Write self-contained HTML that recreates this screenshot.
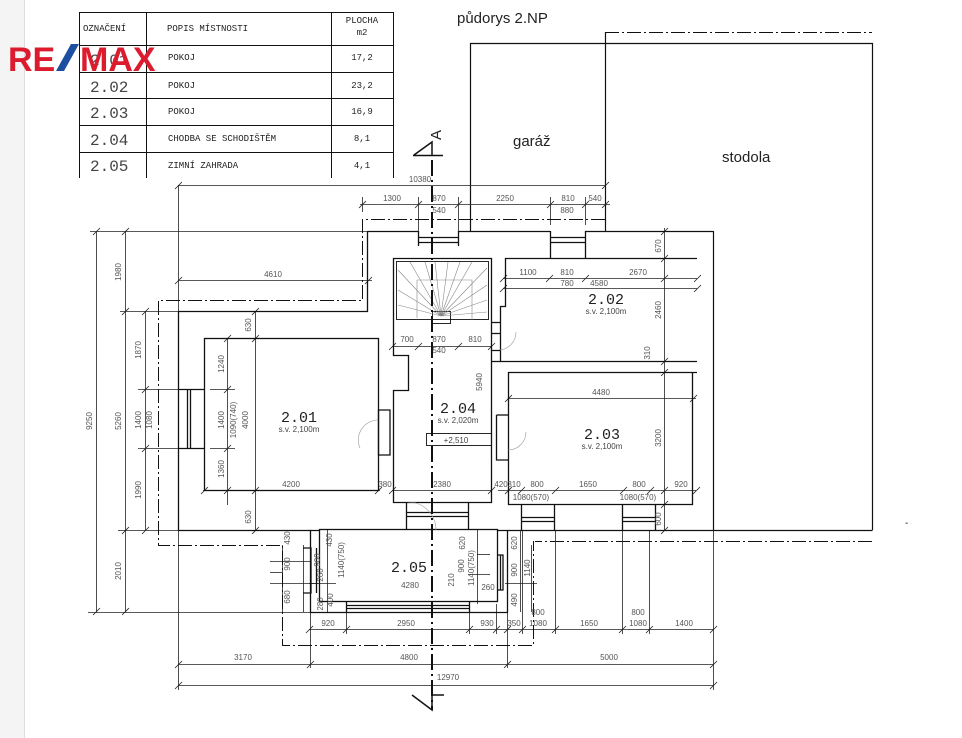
<!DOCTYPE html>
<html><head><meta charset="utf-8"><style>
html,body{margin:0;padding:0;background:#fff;}
body{width:962px;height:738px;overflow:hidden;position:relative;}
svg{position:absolute;left:0;top:0;}
.d{font-family:"Liberation Sans",sans-serif;font-size:8px;fill:#555;}
.r{font-family:"Liberation Mono",monospace;font-size:15px;fill:#222;}
.s{font-family:"Liberation Sans",sans-serif;font-size:8px;fill:#444;}
.t{font-family:"Liberation Mono",monospace;font-size:9px;fill:#222;}
.tn{font-family:"Liberation Mono",monospace;font-size:16px;fill:#444;}
</style></head><body>
<svg width="962" height="738" viewBox="0 0 962 738" xmlns="http://www.w3.org/2000/svg">
<rect x="0" y="0" width="24" height="738" fill="#f4f4f4"/>
<line x1="24.5" y1="0" x2="24.5" y2="738" stroke="#ddd"/>

<!-- table -->
<g stroke="#111" stroke-width="1" fill="none">
<path d="M79.5 178V12.5H393.5V178"/>
<line x1="146.5" y1="12" x2="146.5" y2="178"/>
<line x1="331.5" y1="12" x2="331.5" y2="178"/>
<line x1="79" y1="45.5" x2="393" y2="45.5"/>
<line x1="79" y1="72.5" x2="393" y2="72.5"/>
<line x1="79" y1="98.5" x2="393" y2="98.5"/>
<line x1="79" y1="125.5" x2="393" y2="125.5"/>
<line x1="79" y1="152.5" x2="393" y2="152.5"/>
</g>
<text class="t" x="83" y="31">OZNAČENÍ</text>
<text class="t" x="167" y="31">POPIS MÍSTNOSTI</text>
<text class="t" x="362" y="23" text-anchor="middle">PLOCHA</text>
<text class="t" x="362" y="35" text-anchor="middle">m2</text>
<text class="tn" x="90" y="65">2.01</text>
<text class="tn" x="90" y="92">2.02</text>
<text class="tn" x="90" y="118">2.03</text>
<text class="tn" x="90" y="145">2.04</text>
<text class="tn" x="90" y="171">2.05</text>
<text class="t" x="168" y="60">POKOJ</text>
<text class="t" x="168" y="88">POKOJ</text>
<text class="t" x="168" y="114">POKOJ</text>
<text class="t" x="168" y="141">CHODBA SE SCHODIŠTĚM</text>
<text class="t" x="168" y="168">ZIMNÍ ZAHRADA</text>
<text class="t" x="362" y="60" text-anchor="middle">17,2</text>
<text class="t" x="362" y="88" text-anchor="middle">23,2</text>
<text class="t" x="362" y="114" text-anchor="middle">16,9</text>
<text class="t" x="362" y="141" text-anchor="middle">8,1</text>
<text class="t" x="362" y="168" text-anchor="middle">4,1</text>

<!-- RE/MAX logo -->
<text x="8" y="71" font-family="Liberation Sans,sans-serif" font-weight="bold" font-size="34" fill="#dc1c2e">RE</text>
<polygon points="56,71 64,71 79,44 71,44" fill="#1c4fa0"/>
<text x="80" y="71" font-family="Liberation Sans,sans-serif" font-weight="bold" font-size="34" fill="#dc1c2e">MAX</text>

<text x="457" y="23" font-family="Liberation Sans,sans-serif" font-size="15" fill="#222">půdorys 2.NP</text>

<!-- garage / barn -->
<g stroke="#111" fill="none" stroke-width="1.2">
<path d="M470.5 231V43.5H872.5V530"/>
<line x1="605.5" y1="32" x2="605.5" y2="231"/>
<path d="M713.5 231V530.5H872.5"/>
</g>
<path d="M605 32.5H872M872 541.5H535" stroke="#111" stroke-dasharray="14,3,2,3" fill="none"/>
<text x="513" y="146" font-family="Liberation Sans,sans-serif" font-size="15" fill="#222">garáž</text>
<text x="722" y="162" font-family="Liberation Sans,sans-serif" font-size="15" fill="#222">stodola</text>
<text x="905" y="526" font-size="10" fill="#222" font-family="Liberation Sans">-</text>

<!-- dimension lines (thin) -->
<g stroke="#222" stroke-width="0.8" fill="none">
<line x1="178" y1="185.5" x2="605" y2="185.5"/>
<line x1="360" y1="204.5" x2="610" y2="204.5"/>
<line x1="90" y1="231.5" x2="367" y2="231.5"/>
<line x1="178" y1="280.5" x2="372" y2="280.5"/>
<line x1="96.5" y1="231" x2="96.5" y2="612"/>
<line x1="125.5" y1="231" x2="125.5" y2="612"/>
<line x1="145.5" y1="311" x2="145.5" y2="530"/>
<line x1="120" y1="311.5" x2="178" y2="311.5"/>
<line x1="138" y1="389.5" x2="178" y2="389.5"/>
<line x1="138" y1="448.5" x2="178" y2="448.5"/>
<line x1="118" y1="530.5" x2="178" y2="530.5"/>
<line x1="88" y1="612.5" x2="310" y2="612.5"/>
<line x1="227.5" y1="338" x2="227.5" y2="505"/>
<line x1="210" y1="389.5" x2="235" y2="389.5"/>
<line x1="210" y1="448.5" x2="235" y2="448.5"/>
<line x1="255.5" y1="311" x2="255.5" y2="530"/>
<line x1="203" y1="490.5" x2="380" y2="490.5"/>
<line x1="392" y1="490.5" x2="492" y2="490.5"/>
<line x1="392" y1="346.5" x2="492" y2="346.5"/>
<line x1="498" y1="490.5" x2="696" y2="490.5"/>
<line x1="503" y1="278.5" x2="697" y2="278.5"/>
<line x1="503" y1="288.5" x2="697" y2="288.5"/>
<line x1="508" y1="398.5" x2="696" y2="398.5"/>
<line x1="664.5" y1="228" x2="664.5" y2="530"/>
<line x1="418.5" y1="197" x2="418.5" y2="240"/>
<line x1="458.5" y1="197" x2="458.5" y2="240"/>
<line x1="550.5" y1="197" x2="550.5" y2="225"/>
<line x1="585.5" y1="197" x2="585.5" y2="225"/>
<line x1="362.5" y1="197" x2="362.5" y2="212"/>
<line x1="178.5" y1="185" x2="178.5" y2="311"/>
<!-- bottom -->
<line x1="309" y1="629.5" x2="714" y2="629.5"/>
<line x1="178" y1="664.5" x2="714" y2="664.5"/>
<line x1="178" y1="685.5" x2="714" y2="685.5"/>
<line x1="178.5" y1="530" x2="178.5" y2="690"/>
<line x1="713.5" y1="530" x2="713.5" y2="690"/>
<line x1="310.5" y1="612" x2="310.5" y2="668"/>
<line x1="507.5" y1="612" x2="507.5" y2="668"/>
<line x1="346.5" y1="604" x2="346.5" y2="634"/>
<line x1="469.5" y1="604" x2="469.5" y2="634"/>
<line x1="496.5" y1="604" x2="496.5" y2="634"/>
<line x1="522.5" y1="530" x2="522.5" y2="634"/>
<line x1="555.5" y1="530" x2="555.5" y2="634"/>
<line x1="622.5" y1="530" x2="622.5" y2="634"/>
<line x1="649.5" y1="530" x2="649.5" y2="634"/>
<line x1="282.5" y1="545" x2="282.5" y2="612"/>
<line x1="303.5" y1="545" x2="303.5" y2="612"/>
<line x1="327.5" y1="530" x2="327.5" y2="612"/>
<line x1="477.5" y1="530" x2="477.5" y2="604"/>
<line x1="520.5" y1="530" x2="520.5" y2="612"/>
<line x1="531.5" y1="545" x2="531.5" y2="612"/>
<line x1="270" y1="572.5" x2="282" y2="572.5"/>
<line x1="270" y1="561.5" x2="310" y2="561.5"/>
<line x1="270" y1="583.5" x2="318" y2="583.5"/>
<line x1="309" y1="583.5" x2="336" y2="583.5"/>
<line x1="468" y1="574.5" x2="490" y2="574.5"/>
<line x1="505" y1="583.5" x2="537" y2="583.5"/>
<line x1="477" y1="554.5" x2="490" y2="554.5"/>
</g>
<!-- ticks -->
<g stroke="#222" stroke-width="0.8">
<path d="M175 189l7-7M359 208l7-7M415 208l7-7M455 208l7-7M547 208l7-7M582 208l7-7M602 208l7-7M602 189l7-7M93 235l7-7M122 235l7-7M93 615l7-7M122 615l7-7M142 315l7-7M122 315l7-7M142 393l7-7M142 452l7-7M142 534l7-7M122 534l7-7M175 284l7-7M365 284l7-7M224 342l7-7M224 393l7-7M224 452l7-7M224 494l7-7M252 315l7-7M252 342l7-7M252 494l7-7M252 534l7-7M201 494l7-7M375 494l7-7M389 494l7-7M488 494l7-7M389 350l7-7M415 350l7-7M455 350l7-7M488 350l7-7M505 494l7-7M518 494l7-7M552 494l7-7M620 494l7-7M647 494l7-7M661 494l7-7M693 494l7-7M500 282l7-7M546 282l7-7M582 282l7-7M661 282l7-7M694 282l7-7M500 292l7-7M694 292l7-7M505 402l7-7M690 402l7-7M661 235l7-7M661 262l7-7M661 365l7-7M661 376l7-7M661 508l7-7M661 534l7-7M306 633l7-7M343 633l7-7M466 633l7-7M493 633l7-7M504 633l7-7M519 633l7-7M552 633l7-7M619 633l7-7M646 633l7-7M710 633l7-7M175 668l7-7M307 668l7-7M504 668l7-7M710 668l7-7M175 689l7-7M710 689l7-7"/>
</g>

<!-- walls -->
<g stroke="#111" stroke-width="1.3" fill="none">
<path d="M367.5 231V311.5H178.5V530.5H310.5V612.5H507.5V530.5H713.5"/>
<line x1="367.5" y1="231.5" x2="418" y2="231.5"/>
<line x1="458" y1="231.5" x2="550" y2="231.5"/>
<line x1="585" y1="231.5" x2="713" y2="231.5"/>
<path d="M418 237.5H458M418 242.5H458M550 237.5H585M550 242.5H585"/>
<path d="M418.5 231V246M458.5 231V246M550.5 231V258M585.5 231V258"/>
<!-- 2.01 -->
<rect x="204.5" y="338.5" width="174" height="152"/>
<path d="M178 389.5H204M178 448.5H204M187.5 389V448M190.5 389V448"/>
<path d="M378.5 410V455H390V410Z"/>
<!-- corridor -->
<path d="M393.5 258.5H491.5V502.5H393.5V390.5H408.5V355.5H393.5Z"/>
<path d="M406.5 502V530M468.5 502V530M406 512.5H468M406 516.5H468"/>
<rect x="396.5" y="261.5" width="92" height="58" stroke-width="0.9"/>
<rect x="432.5" y="311.5" width="18" height="12" stroke-width="0.9"/>
<rect x="426.5" y="433.5" width="65" height="12" stroke-width="0.9"/>
<!-- 2.02 -->
<path d="M697 258.5H505.5V306.5H500.5V361.5H697"/>
<path d="M491 322.5H500M491 333.5H500M491 350.5H500M491 361.5H500"/>
<!-- 2.03 -->
<path d="M697 372.5H508.5V504.5H692.5V372.5"/>
<path d="M496.5 415V460H508"/>
<path d="M496.5 415H508"/>
<path d="M521.5 504V530M554.5 504V530M622.5 504V530M655.5 504V530M521 517.5H554M521 521.5H554M622 517.5H655M622 521.5H655"/>
<!-- 2.05 -->
<rect x="319.5" y="529.5" width="178" height="72"/>
<path d="M310 530.5H319M497 530.5H507"/>
<path d="M346.5 601V612M469.5 601V612M347 605.5H469M347 608.5H469"/>
<path d="M303 548H311V593H303M316.5 548V593"/>
<path d="M497 555H503V590H497M500.5 555V590"/>
</g>
<!-- stair lines -->
<g stroke="#888" stroke-width="0.6" fill="none">
<path d="M441 316L398 270M441 316L398 290M441 316L398 305M441 316L410 262M441 316L425 262M441 316L435 262M441 316L448 262M441 316L460 262M441 316L472 262M441 316L487 268M441 316L487 285M441 316L487 300M441 316L487 312M417 280H472V320M417 280V318"/>
</g>
<!-- door arcs -->
<g stroke="#999" stroke-width="0.6" fill="none">
<path d="M360 448A20 20 0 0 1 378 420"/>
<path d="M500 350A18 18 0 0 0 516 332"/>
<path d="M508 450A18 18 0 0 0 526 432"/>
<path d="M408 502A28 28 0 0 1 436 530"/>
</g>
<!-- dash-dot outlines -->
<g stroke="#111" stroke-width="1" fill="none" stroke-dasharray="14,3,2,3">
<path d="M605 219.5H362.5V300.5H158.5V545.5H282.5V645.5H533.5V541"/>
</g>
<!-- section axis -->
<line x1="432" y1="160" x2="432" y2="710" stroke="#111" stroke-width="2" stroke-dasharray="16,4,2,4"/>
<path d="M413 155.5H443M414 155L432 142V155" stroke="#111" stroke-width="1.5" fill="none"/>
<text x="0" y="0" transform="translate(441,135) rotate(-90)" font-family="Liberation Sans,sans-serif" font-size="15" fill="#222" text-anchor="middle">A</text>
<path d="M412 695L432 710V695M432 695H444" stroke="#111" stroke-width="1.5" fill="none"/>

<!-- room labels -->
<text class="r" x="299" y="422" text-anchor="middle">2.01</text>
<text class="s" x="299" y="432" text-anchor="middle">s.v. 2,100m</text>
<text class="r" x="458" y="413" text-anchor="middle">2.04</text>
<text class="s" x="458" y="423" text-anchor="middle">s.v. 2,020m</text>
<text class="s" x="456" y="443" text-anchor="middle">+2,510</text>
<text class="r" x="606" y="304" text-anchor="middle">2.02</text>
<text class="s" x="606" y="314" text-anchor="middle">s.v. 2,100m</text>
<text class="r" x="602" y="439" text-anchor="middle">2.03</text>
<text class="s" x="602" y="449" text-anchor="middle">s.v. 2,100m</text>
<text class="r" x="409" y="572" text-anchor="middle">2.05</text>

<!-- dim labels -->
<g class="d">
<text x="420" y="182" text-anchor="middle">10380</text>
<text x="392" y="201" text-anchor="middle">1300</text>
<text x="439" y="201" text-anchor="middle">870</text>
<text x="439" y="213" text-anchor="middle">540</text>
<text x="505" y="201" text-anchor="middle">2250</text>
<text x="568" y="201" text-anchor="middle">810</text>
<text x="567" y="213" text-anchor="middle">880</text>
<text x="595" y="201" text-anchor="middle">540</text>
<text x="273" y="277" text-anchor="middle">4610</text>
<text x="407" y="342" text-anchor="middle">700</text>
<text x="439" y="342" text-anchor="middle">870</text>
<text x="439" y="353" text-anchor="middle">540</text>
<text x="475" y="342" text-anchor="middle">810</text>
<text x="528" y="275" text-anchor="middle">1100</text>
<text x="567" y="275" text-anchor="middle">810</text>
<text x="567" y="286" text-anchor="middle">780</text>
<text x="599" y="286" text-anchor="middle">4580</text>
<text x="638" y="275" text-anchor="middle">2670</text>
<text x="601" y="395" text-anchor="middle">4480</text>
<text x="291" y="487" text-anchor="middle">4200</text>
<text x="385" y="487" text-anchor="middle">380</text>
<text x="442" y="487" text-anchor="middle">2380</text>
<text x="501" y="487" text-anchor="middle">420</text>
<text x="514" y="487" text-anchor="middle">310</text>
<text x="537" y="487" text-anchor="middle">800</text>
<text x="588" y="487" text-anchor="middle">1650</text>
<text x="639" y="487" text-anchor="middle">800</text>
<text x="681" y="487" text-anchor="middle">920</text>
<text x="531" y="500" text-anchor="middle">1080(570)</text>
<text x="638" y="500" text-anchor="middle">1080(570)</text>
<text x="410" y="588" text-anchor="middle">4280</text>
<text x="328" y="626" text-anchor="middle">920</text>
<text x="406" y="626" text-anchor="middle">2950</text>
<text x="487" y="626" text-anchor="middle">930</text>
<text x="514" y="626" text-anchor="middle">350</text>
<text x="538" y="626" text-anchor="middle">1080</text>
<text x="589" y="626" text-anchor="middle">1650</text>
<text x="638" y="626" text-anchor="middle">1080</text>
<text x="684" y="626" text-anchor="middle">1400</text>
<text x="538" y="615" text-anchor="middle">800</text>
<text x="638" y="615" text-anchor="middle">800</text>
<text x="243" y="660" text-anchor="middle">3170</text>
<text x="409" y="660" text-anchor="middle">4800</text>
<text x="609" y="660" text-anchor="middle">5000</text>
<text x="448" y="680" text-anchor="middle">12970</text>
<g>
<text transform="translate(92,421) rotate(-90)" text-anchor="middle">9250</text>
<text transform="translate(121,272) rotate(-90)" text-anchor="middle">1980</text>
<text transform="translate(121,421) rotate(-90)" text-anchor="middle">5260</text>
<text transform="translate(121,571) rotate(-90)" text-anchor="middle">2010</text>
<text transform="translate(141,350) rotate(-90)" text-anchor="middle">1870</text>
<text transform="translate(141,420) rotate(-90)" text-anchor="middle">1400</text>
<text transform="translate(152,420) rotate(-90)" text-anchor="middle">1080</text>
<text transform="translate(141,490) rotate(-90)" text-anchor="middle">1990</text>
<text transform="translate(224,364) rotate(-90)" text-anchor="middle">1240</text>
<text transform="translate(224,420) rotate(-90)" text-anchor="middle">1400</text>
<text transform="translate(236,420) rotate(-90)" text-anchor="middle">1090(740)</text>
<text transform="translate(248,420) rotate(-90)" text-anchor="middle">4000</text>
<text transform="translate(224,469) rotate(-90)" text-anchor="middle">1360</text>
<text transform="translate(251,325) rotate(-90)" text-anchor="middle">630</text>
<text transform="translate(251,517) rotate(-90)" text-anchor="middle">630</text>
<text transform="translate(482,382) rotate(-90)" text-anchor="middle">5940</text>
<text transform="translate(661,246) rotate(-90)" text-anchor="middle">670</text>
<text transform="translate(661,310) rotate(-90)" text-anchor="middle">2460</text>
<text transform="translate(650,353) rotate(-90)" text-anchor="middle">310</text>
<text transform="translate(661,438) rotate(-90)" text-anchor="middle">3200</text>
<text transform="translate(661,519) rotate(-90)" text-anchor="middle">600</text>
<text transform="translate(290,538) rotate(-90)" text-anchor="middle">430</text>
<text transform="translate(290,564) rotate(-90)" text-anchor="middle">900</text>
<text transform="translate(290,597) rotate(-90)" text-anchor="middle">680</text>
<text transform="translate(332,540) rotate(-90)" text-anchor="middle">430</text>
<text transform="translate(320,560) rotate(-90)" text-anchor="middle">900</text>
<text transform="translate(344,560) rotate(-90)" text-anchor="middle">1140(750)</text>
<text transform="translate(323,575) rotate(-90)" text-anchor="middle">260</text>
<text transform="translate(333,600) rotate(-90)" text-anchor="middle">400</text>
<text transform="translate(323,604) rotate(-90)" text-anchor="middle">280</text>
<text transform="translate(465,543) rotate(-90)" text-anchor="middle">620</text>
<text transform="translate(464,566) rotate(-90)" text-anchor="middle">900</text>
<text transform="translate(474,568) rotate(-90)" text-anchor="middle">1140(750)</text>
<text transform="translate(454,580) rotate(-90)" text-anchor="middle">210</text>
<text transform="translate(517,543) rotate(-90)" text-anchor="middle">620</text>
<text transform="translate(517,570) rotate(-90)" text-anchor="middle">900</text>
<text transform="translate(530,568) rotate(-90)" text-anchor="middle">1140</text>
<text transform="translate(517,600) rotate(-90)" text-anchor="middle">490</text>
</g>
<text x="488" y="590" text-anchor="middle">260</text>
</g>
</svg>
</body></html>
